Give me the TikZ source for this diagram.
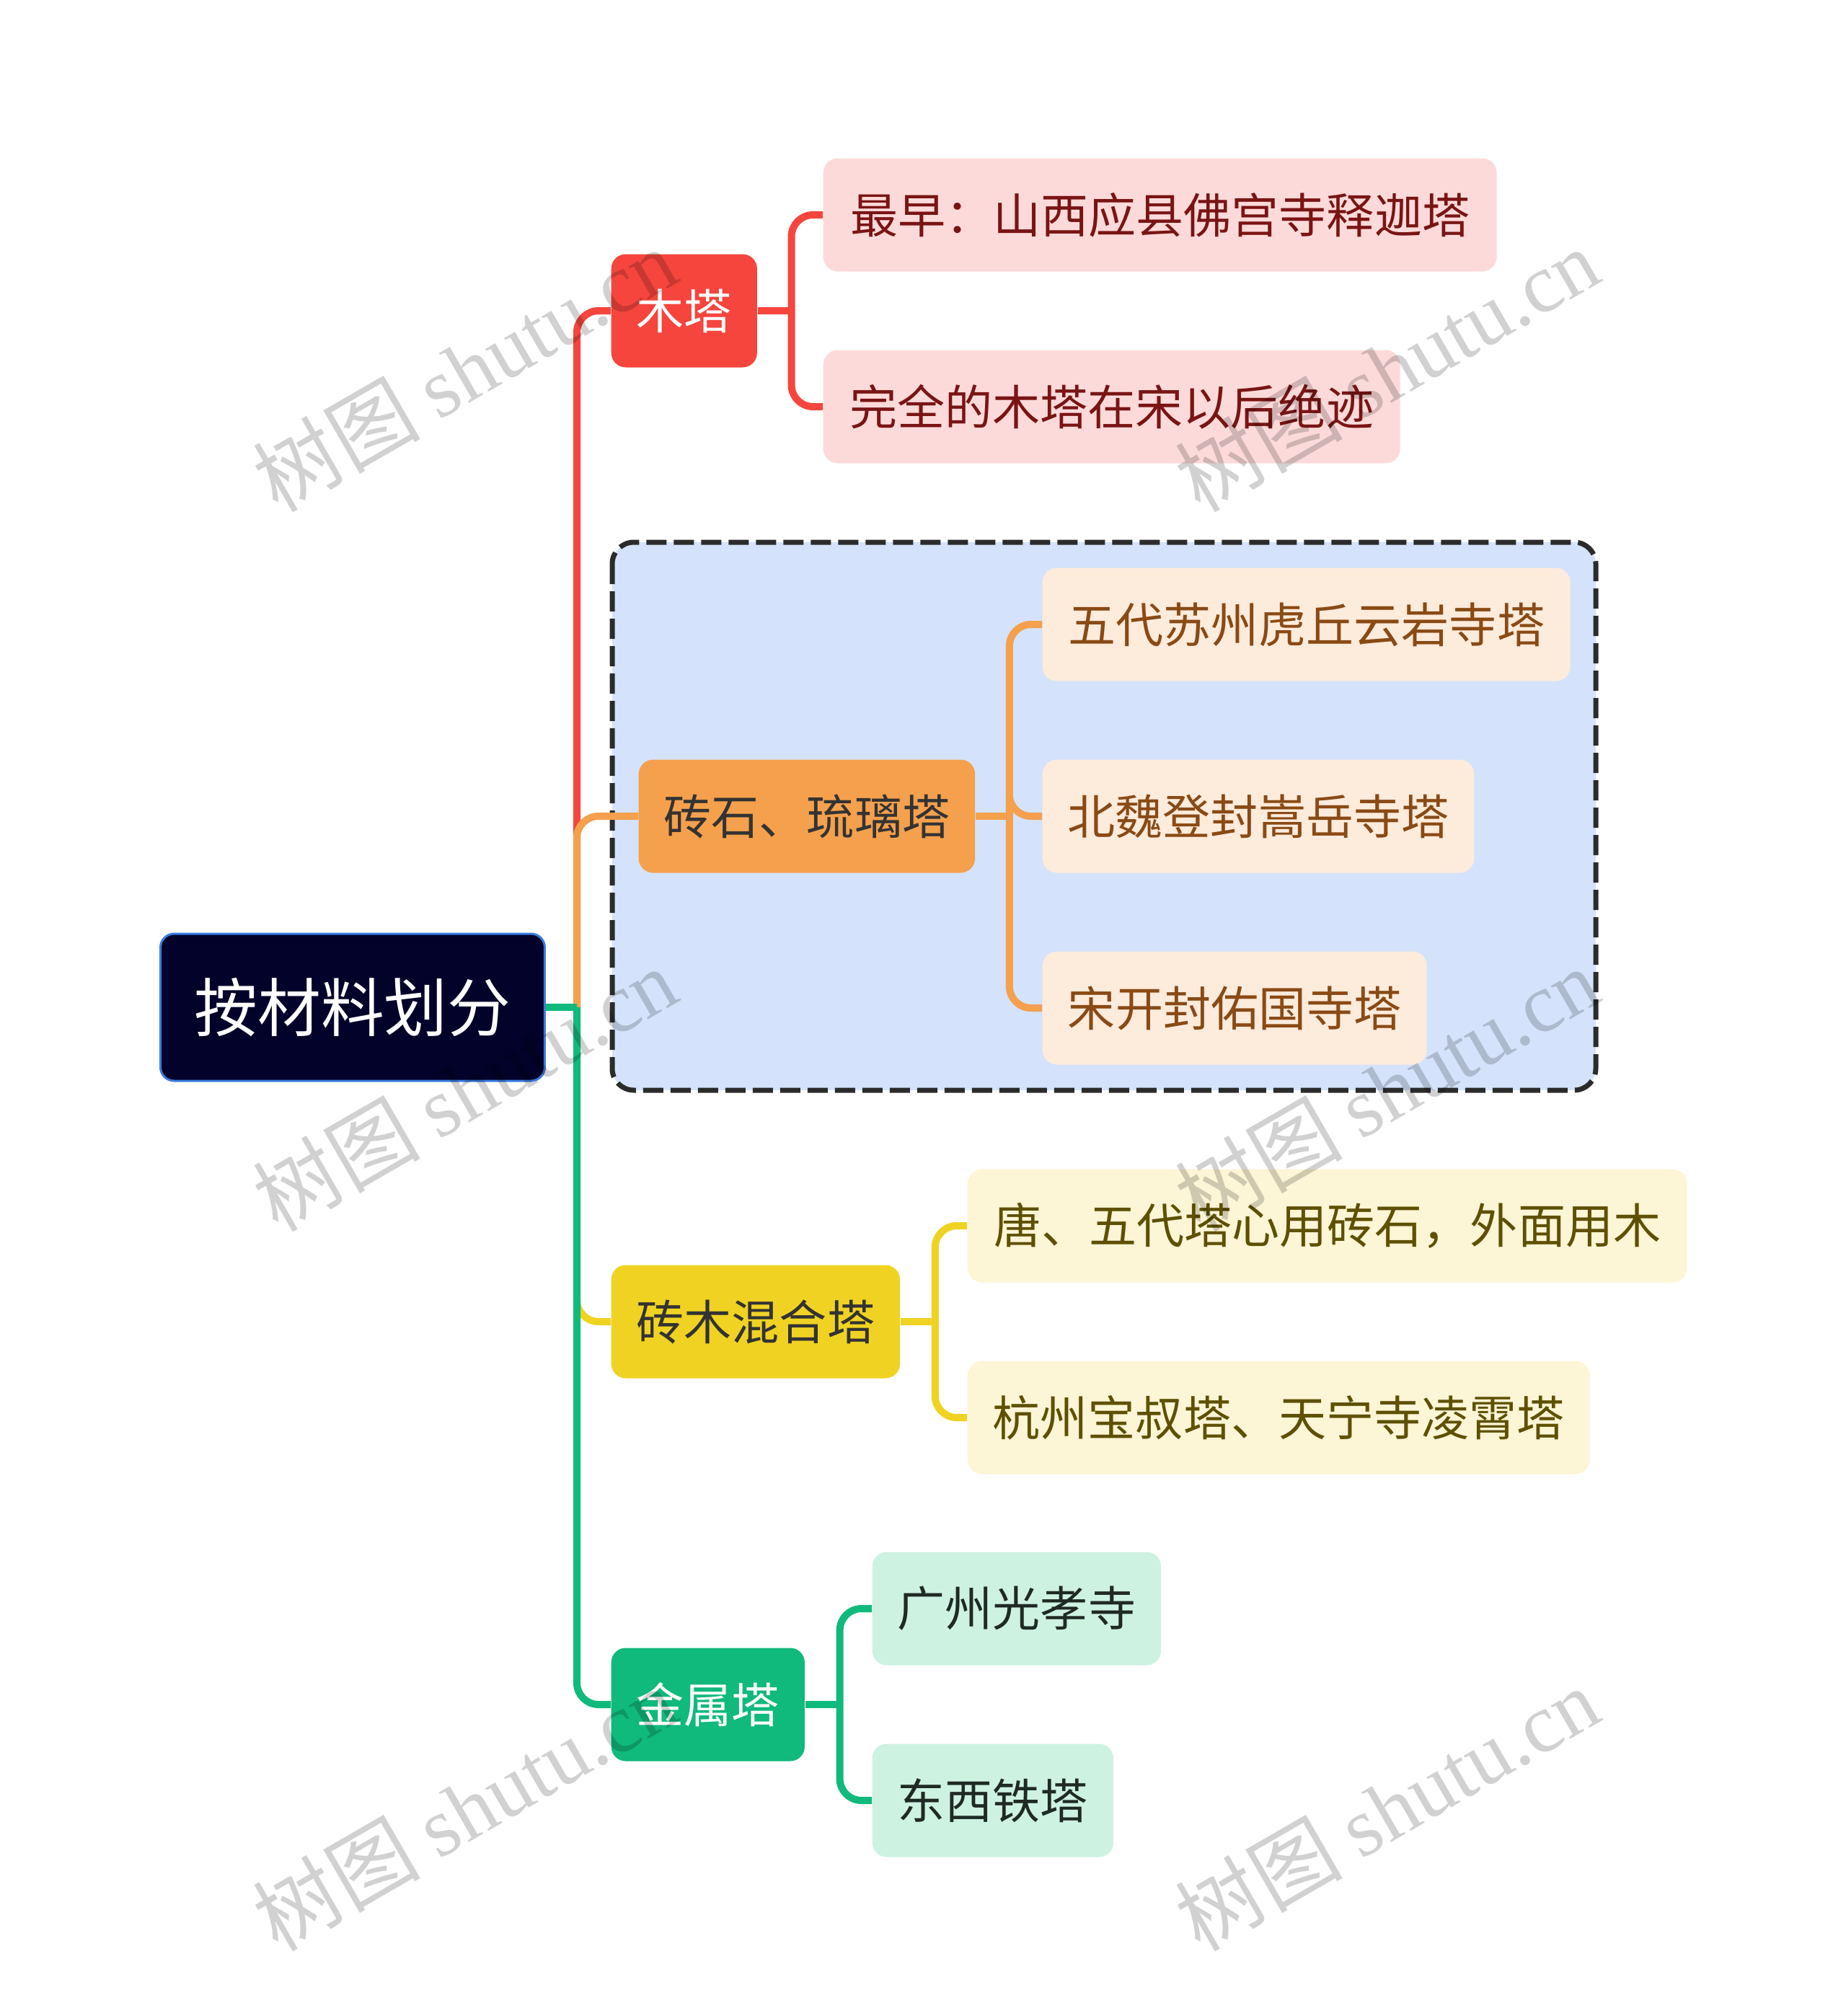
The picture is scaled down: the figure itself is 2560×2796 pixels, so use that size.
\documentclass[tikz,border=0pt]{standalone}
\usepackage{fontspec}
\setmainfont{Noto Sans CJK SC}
\newfontfamily\wmfont{Liberation Serif}
\usepackage{xcolor}
\usetikzlibrary{positioning}
\definecolor{rootfill}{HTML}{02022A}
\definecolor{rootline}{HTML}{3A7BE0}
\definecolor{mured}{HTML}{F5453D}
\definecolor{mupale}{HTML}{FDDADA}
\definecolor{muink}{HTML}{7A1414}
\definecolor{zsorange}{HTML}{F4A04C}
\definecolor{zspale}{HTML}{FDEBDC}
\definecolor{zsink}{HTML}{8A4A14}
\definecolor{zmyellow}{HTML}{F0D322}
\definecolor{zmpale}{HTML}{FCF5D6}
\definecolor{zmink}{HTML}{5E5000}
\definecolor{jsgreen}{HTML}{10B97C}
\definecolor{jspale}{HTML}{CEF2E2}
\definecolor{jsink}{HTML}{1F2A25}
\definecolor{groupfill}{HTML}{D4E3FB}
\definecolor{groupline}{HTML}{2B2B2B}
\tikzset{
    every picture/.style={line cap=butt,line join=round},
    rootnode/.style={fill=rootfill,draw=rootline,line width=0.3mm,rounded corners=1.9mm,
      minimum width=53.3mm,minimum height=20.4mm,inner sep=0pt,text=white,
      font=\fontsize{25}{30}\selectfont,anchor=west},
    topicnode/.style={rounded corners=2mm,minimum height=15.7mm,inner xsep=3.5mm,
      inner ysep=0pt,font=\fontsize{18.8}{22}\selectfont,anchor=west},
    mutopic/.style={topicnode,fill=mured,text=white},
    muleaf/.style={topicnode,fill=mupale,text=muink},
    zstopic/.style={topicnode,fill=zsorange,text=black!80},
    zsleaf/.style={topicnode,fill=zspale,text=zsink},
    zmtopic/.style={topicnode,fill=zmyellow,text=black!80},
    zmleaf/.style={topicnode,fill=zmpale,text=zmink},
    jstopic/.style={topicnode,fill=jsgreen,text=white},
    jsleaf/.style={topicnode,fill=jspale,text=jsink},
    branch/.style={line width=1mm,rounded corners=3mm},
    stem/.style={line width=1mm},
    groupbox/.style={fill=groupfill,draw=groupline,line width=0.7mm,rounded corners=3mm,
      dash pattern=on 2.8mm off 1mm},
    watermark/.style={text=black,text opacity=0.18,rotate=30,
      font=\fontsize{33}{36}\selectfont}
}
\begin{document}
\begin{tikzpicture}[x=0.1mm,y=-0.1mm]
  \useasboundingbox (0,0) rectangle (2560,2796);
  % dashed group round the brick branch
  \draw[groupbox] (849,752) rectangle (2213,1512);
  % root and main topics
  \node[rootnode] (root) at (221,1397){按材料划分};
  \node[mutopic] (mu) at (847,431){木塔};
  \node[zstopic] (zs) at (885,1132){砖石、琉璃塔};
  \node[zmtopic] (zm) at (847,1833){砖木混合塔};
  \node[jstopic] (js) at (847,2364){金属塔};
  % leaves
  \node[muleaf,minimum width=93.4mm] (mu1) at (1141,298){最早：山西应县佛宫寺释迦塔};
  \node[muleaf,minimum width=80mm] (mu2) at (1141,564){完全的木塔在宋以后绝迹};
  \node[zsleaf,minimum width=73.2mm] (zs1) at (1445,866){五代苏州虎丘云岩寺塔};
  \node[zsleaf,minimum width=59.8mm] (zs2) at (1445,1132){北魏登封嵩岳寺塔};
  \node[zsleaf,minimum width=53.3mm] (zs3) at (1445,1398){宋开封佑国寺塔};
  \node[zmleaf,minimum width=99.8mm] (zm1) at (1341,1700){唐、五代塔心用砖石，外面用木};
  \node[zmleaf,minimum width=86.3mm] (zm2) at (1341,1966){杭州宝叔塔、天宁寺凌霄塔};
  \node[jsleaf,minimum width=40mm] (js1) at (1209,2231){广州光孝寺};
  \node[jsleaf,minimum width=33.4mm] (js2) at (1209,2497){东西铁塔};
  % trunk
  \coordinate (hub) at (800,1397);
  \draw[branch,mured] (hub) |- (mu.west);
  \draw[branch,zmyellow] (hub) |- (zm.west);
  \draw[branch,zsorange] (hub) |- (zs.west);
  \draw[branch,jsgreen] (hub) |- (js.west);
  \draw[stem,jsgreen] (root.east) -- (hub);
  % junctions to the leaves
  \coordinate[right=4.7mm of mu] (mujn);
  \coordinate[right=4.7mm of zs] (zsjn);
  \coordinate[right=4.8mm of zm] (zmjn);
  \coordinate[right=4.8mm of js] (jsjn);
  \draw[stem,mured] (mu.east) -- (mujn);
  \draw[stem,zsorange] (zs.east) -- (zsjn);
  \draw[stem,zmyellow] (zm.east) -- (zmjn);
  \draw[stem,jsgreen] (js.east) -- (jsjn);
  \foreach \leaf in {mu1,mu2} \draw[branch,mured] (mujn) |- (\leaf.west);
  \foreach \leaf in {zs1,zs2,zs3} \draw[branch,zsorange] (zsjn) |- (\leaf.west);
  \foreach \leaf in {zm1,zm2} \draw[branch,zmyellow] (zmjn) |- (\leaf.west);
  \foreach \leaf in {js1,js2} \draw[branch,jsgreen] (jsjn) |- (\leaf.west);
  % watermarks
  \foreach \wx in {644,1923}
    \foreach \wy in {512,1510,2508}
      \node[watermark] (wm-\wx-\wy) at (\wx,\wy){树图 {\wmfont shutu.cn}};
\end{tikzpicture}
\end{document}
